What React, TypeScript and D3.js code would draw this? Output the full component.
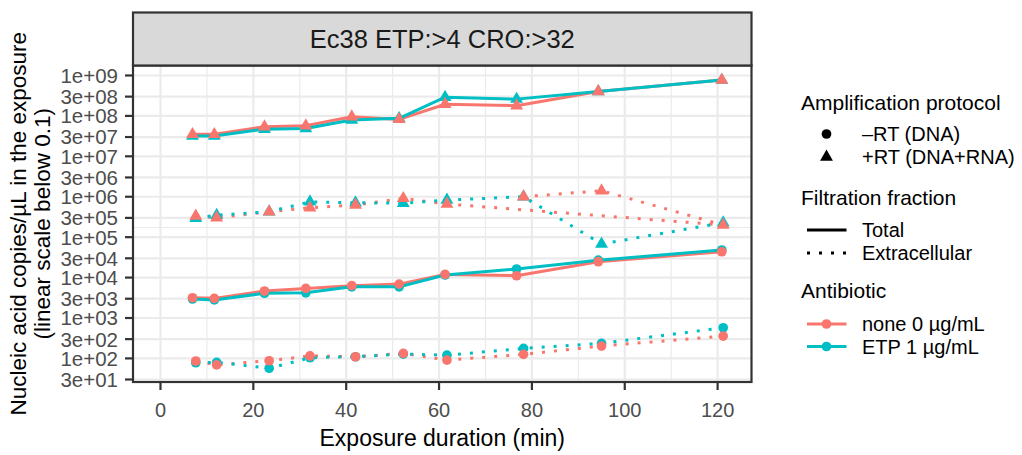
import React from "react";
import * as d3 from "d3";

// Sampling times (min) of each filtration fraction
const totalTimes = [6.9, 11.6, 22.4, 31.3, 41.2, 51.4, 61.3, 76.7, 94.3, 120.9];
const extraTimes = [7.6, 12.1, 23.4, 32.2, 42.0, 52.3, 61.7, 78.2, 95.0, 121.2];
// untreated extracellular +RT rows, in the order they were recorded
const extraRtNoneTimes = [7.6, 12.1, 23.4, 32.2, 42.0, 52.3, 61.7, 121.2, 95.0, 78.2];

// Nucleic acid copies/µL
const totalRtNone = [3.5e7, 3.5e7, 5.4e7, 5.7e7, 9.5e7, 8.2e7, 1.94e8, 1.79e8, 4.0e8, 7.7e8];
const totalRtEtp = [3.2e7, 3.2e7, 4.7e7, 4.9e7, 7.9e7, 8.7e7, 2.9e8, 2.6e8, 4.0e8, 7.7e8];
const totalDnaNone = [3.17e3, 3.06e3, 4.65e3, 5.4e3, 6.3e3, 6.9e3, 1.2e4, 1.11e4, 2.47e4, 4.36e4];
const totalDnaEtp = [2.95e3, 2.8e3, 4.1e3, 4.2e3, 5.9e3, 5.9e3, 1.16e4, 1.63e4, 2.7e4, 4.8e4];
const extraRtNone = [3.33e5, 3.03e5, 4.26e5, 5.35e5, 6.24e5, 9.1e5, 6.6e5, 2.0e5, 1.41e6, 1.0e6];
const extraRtEtp = [2.93e5, 3.5e5, 4.26e5, 7.5e5, 7.1e5, 6.9e5, 8.3e5, 1.0e6, 6.8e4, 2.28e5];
const extraDnaNone = [86, 69, 87.5, 115, 110, 133, 91, 126, 202, 357];
const extraDnaEtp = [78, 80, 57, 104, 110, 128, 120, 177, 236, 574];

const xTicks = [0, 20, 40, 60, 80, 100, 120];
const xMinor = [10, 30, 50, 70, 90, 110];
const yTicks = [30, 100, 300, 1e3, 3e3, 1e4, 3e4, 1e5, 3e5, 1e6, 3e6, 1e7, 3e7, 1e8, 3e8, 1e9];
const yTickLabels = ["3e+01", "1e+02", "3e+02", "1e+03", "3e+03", "1e+04", "3e+04", "1e+05", "3e+05", "1e+06", "3e+06", "1e+07", "3e+07", "1e+08", "3e+08", "1e+09"];
const yMinor = [Math.sqrt(1e5 * 3e5)];

const antibiotics = ["none 0 µg/mL", "ETP 1 µg/mL"];
const antibioticColors = ["#F8766D", "#00BFC4"];
const protocols = ["–RT (DNA)", "+RT (DNA+RNA)"];
const fractions = ["Total", "Extracellular"];

type Series = { ab: number; fraction: number; protocol: number; times: number[]; values: number[] };

const series: Series[] = [
  { ab: 0, fraction: 0, protocol: 1, times: totalTimes, values: totalRtNone },
  { ab: 1, fraction: 0, protocol: 1, times: totalTimes, values: totalRtEtp },
  { ab: 0, fraction: 0, protocol: 0, times: totalTimes, values: totalDnaNone },
  { ab: 1, fraction: 0, protocol: 0, times: totalTimes, values: totalDnaEtp },
  { ab: 0, fraction: 1, protocol: 1, times: extraRtNoneTimes, values: extraRtNone },
  { ab: 1, fraction: 1, protocol: 1, times: extraTimes, values: extraRtEtp },
  { ab: 0, fraction: 1, protocol: 0, times: extraTimes, values: extraDnaNone },
  { ab: 1, fraction: 1, protocol: 0, times: extraTimes, values: extraDnaEtp },
];

const W = 1022;
const H = 455;
const panel = { left: 133, right: 751.5, top: 65.5, bottom: 382 };
const strip = { top: 12.5, bottom: 65.5 };
const FONT = "'Liberation Sans', Arial, Helvetica, sans-serif";

const x = d3.scaleLinear().domain([-5.92, 127.3]).range([panel.left, panel.right]);
const y = d3
  .scaleSymlog()
  .constant(0.1)
  .domain([26.0, 1.766e9])
  .range([panel.bottom, panel.top]);

const LW = 3;
const dash = (f: number) => (f === 1 ? `${LW} ${LW * 3}` : undefined);
const circlePath = d3.symbol().type(d3.symbolCircle).size(74)() as string;
const trianglePath = d3.symbol().type(d3.symbolTriangle).size(72)() as string;
const shapeOf = (p: number) => (p === 0 ? circlePath : trianglePath);

export default function App() {
  const line = d3
    .line<[number, number]>()
    .x((d) => x(d[0]))
    .y((d) => y(d[1]));

  const pts = (s: Series) => s.times.map((t, i) => [t, s.values[i]] as [number, number]);
  const lineOrder = [...series].sort((a, b) => a.ab - b.ab);
  const pointOrder = [...series].sort((a, b) => b.ab - a.ab);

  const lx = 801;
  return (
    <div style={{ position: "absolute", left: 0, top: 0 }}>
      <svg width={W} height={H} style={{ display: "block", background: "#fff" }} fontFamily={FONT}>
        <rect x={0} y={0} width={W} height={H} fill="#fff" />

        {/* grid */}
        <g stroke="#EBEBEB">
          {xMinor.map((v) => (
            <line key={"xm" + v} x1={x(v)} x2={x(v)} y1={panel.top} y2={panel.bottom} strokeWidth={1.2} />
          ))}
          {yMinor.map((v) => (
            <line key={"ym" + v} x1={panel.left} x2={panel.right} y1={y(v)} y2={y(v)} strokeWidth={1.2} />
          ))}
          {xTicks.map((v) => (
            <line key={"xM" + v} x1={x(v)} x2={x(v)} y1={panel.top} y2={panel.bottom} strokeWidth={2.2} />
          ))}
          {yTicks.map((v) => (
            <line key={"yM" + v} x1={panel.left} x2={panel.right} y1={y(v)} y2={y(v)} strokeWidth={2.2} />
          ))}
        </g>

        {/* lines */}
        <g fill="none">
          {lineOrder.map((s, i) => (
            <path
              key={"l" + i}
              d={line(pts(s)) as string}
              stroke={antibioticColors[s.ab]}
              strokeWidth={LW}
              strokeDasharray={dash(s.fraction)}
              strokeLinecap="butt"
              strokeLinejoin="round"
            />
          ))}
        </g>

        {/* points */}
        <g>
          {pointOrder.map((s, i) =>
            pts(s).map((p, j) => (
              <path
                key={"p" + i + "-" + j}
                d={shapeOf(s.protocol)}
                transform={`translate(${x(p[0])},${y(p[1])})`}
                fill={antibioticColors[s.ab]}
              />
            ))
          )}
        </g>

        {/* panel border */}
        <rect
          x={panel.left}
          y={panel.top}
          width={panel.right - panel.left}
          height={panel.bottom - panel.top}
          fill="none"
          stroke="#333333"
          strokeWidth={2.2}
        />

        {/* strip */}
        <rect
          x={panel.left}
          y={strip.top}
          width={panel.right - panel.left}
          height={strip.bottom - strip.top}
          fill="#D9D9D9"
          stroke="#333333"
          strokeWidth={2.2}
        />
        <text
          x={(panel.left + panel.right) / 2}
          y={(strip.top + strip.bottom) / 2}
          dy="0.35em"
          textAnchor="middle"
          fontSize={25.5}
          fill="#1A1A1A"
        >
          Ec38 ETP:&gt;4 CRO:&gt;32
        </text>

        {/* x axis */}
        <g>
          {xTicks.map((v) => (
            <g key={"xt" + v}>
              <line x1={x(v)} x2={x(v)} y1={panel.bottom} y2={panel.bottom + 8} stroke="#333333" strokeWidth={2.2} />
              <text x={x(v)} y={416.5} textAnchor="middle" fontSize={20} fill="#4D4D4D">
                {v}
              </text>
            </g>
          ))}
        </g>
        <text x={(panel.left + panel.right) / 2} y={446} textAnchor="middle" fontSize={23} fill="#000">
          Exposure duration (min)
        </text>

        {/* y axis */}
        <g>
          {yTicks.map((v, i) => (
            <g key={"yt" + v}>
              <line x1={panel.left - 8} x2={panel.left} y1={y(v)} y2={y(v)} stroke="#333333" strokeWidth={2.2} />
              <text x={118} y={y(v)} dy="0.36em" textAnchor="end" fontSize={20.5} fill="#4D4D4D">
                {yTickLabels[i]}
              </text>
            </g>
          ))}
        </g>
        <g transform={`translate(0,${(panel.top + panel.bottom) / 2}) rotate(-90)`}>
          <text x={0} y={26} textAnchor="middle" fontSize={22.5} fill="#000">
            Nucleic acid copies/µL in the exposure
          </text>
          <text x={0} y={50} textAnchor="middle" fontSize={22.5} fill="#000">
            (linear scale below 0.1)
          </text>
        </g>

        {/* legends */}
        <g fontSize={20}>
          <text x={lx} y={110} fontSize={21} fill="#000">
            Amplification protocol
          </text>
          {protocols.map((p, i) => {
            const cy = 134 + i * 23;
            return (
              <g key={p}>
                <path d={shapeOf(i)} transform={`translate(826.5,${cy})`} fill="#000" />
                <text x={862} y={cy} dy="0.36em" fill="#000">
                  {p}
                </text>
              </g>
            );
          })}

          <text x={lx} y={205} fontSize={21} fill="#000">
            Filtration fraction
          </text>
          {fractions.map((f, i) => {
            const cy = 230 + i * 23;
            return (
              <g key={f}>
                <line
                  x1={807}
                  x2={846.5}
                  y1={cy}
                  y2={cy}
                  stroke="#000"
                  strokeWidth={LW}
                  strokeDasharray={dash(i)}
                />
                <text x={862} y={cy} dy="0.36em" fill="#000">
                  {f}
                </text>
              </g>
            );
          })}

          <text x={lx} y={298} fontSize={21} fill="#000">
            Antibiotic
          </text>
          {antibiotics.map((a, i) => {
            const cy = 324 + i * 22.5;
            return (
              <g key={a}>
                <line x1={807} x2={846.5} y1={cy} y2={cy} stroke={antibioticColors[i]} strokeWidth={LW} />
                <path d={circlePath} transform={`translate(826.5,${cy})`} fill={antibioticColors[i]} />
                <text x={862} y={cy} dy="0.36em" fill="#000">
                  {a}
                </text>
              </g>
            );
          })}
        </g>
      </svg>
    </div>
  );
}
